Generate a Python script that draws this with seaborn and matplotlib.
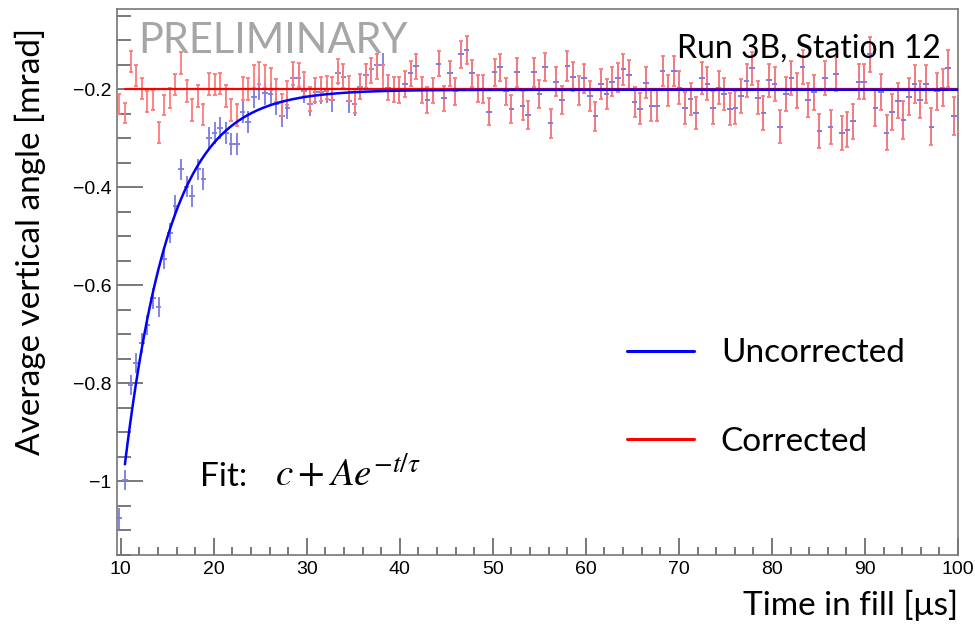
import numpy as np
import matplotlib
matplotlib.use("Agg")
import matplotlib.pyplot as plt
from matplotlib.ticker import MultipleLocator, FixedLocator
from matplotlib.lines import Line2D
import seaborn as sns

# -------------------------------
# data
# -------------------------------
bin_start = 9.85      # first bin centre [us]
bin_width = 0.602     # bin width [us]

# corrected average vertical angle per bin [mrad]
corrected = [
    -0.231, -0.249, -0.144, -0.173, -0.199, -0.226, -0.222, -0.289, -0.233, -0.218,
    -0.191, -0.147, -0.204, -0.243, -0.214, -0.252, -0.190, -0.191, -0.189, -0.214,
    -0.243, -0.253, -0.199, -0.200, -0.175, -0.167,
    -0.175, -0.180, -0.203, -0.233, -0.208, -0.168, -0.171, -0.190, -0.220, -0.202,
    -0.200, -0.197, -0.199, -0.163, -0.173, -0.199, -0.224, -0.195, -0.173, -0.162,
    -0.154, -0.177, -0.197, -0.201, -0.202,
    -0.190, -0.168, -0.154, -0.202, -0.222, -0.203, -0.148, -0.219, -0.168, -0.205,
    -0.129, -0.120, -0.168, -0.199,
    -0.200, -0.246, -0.166, -0.156, -0.205, -0.241, -0.166, -0.234, -0.253, -0.166,
    -0.210, -0.155, -0.270, -0.185, -0.223, -0.153, -0.175, -0.203, -0.178, -0.214,
    -0.256, -0.190, -0.210, -0.185, -0.177, -0.160, -0.172, -0.227, -0.240, -0.187,
    -0.234, -0.234, -0.163, -0.203, -0.163, -0.197,
    -0.239, -0.220, -0.249, -0.177, -0.189, -0.238, -0.197, -0.210, -0.241, -0.238,
    -0.214, -0.183, -0.158, -0.218, -0.249, -0.182, -0.190, -0.277, -0.210, -0.177,
    -0.203, -0.155, -0.222, -0.207, -0.286, -0.178, -0.278, -0.169, -0.290, -0.283,
    -0.266, -0.185, -0.185, -0.129, -0.239, -0.206, -0.289, -0.247, -0.224, -0.263,
    -0.216, -0.190, -0.222, -0.190, -0.277, -0.205, -0.197, -0.158, -0.255, -0.249,
]

# uncorrected values where they differ from the corrected ones (first 48 bins)
uncorrected_early = [
    -1.076, -0.998, -0.804, -0.759, -0.718, -0.682, -0.627, -0.645, -0.546, -0.494,
    -0.438, -0.364, -0.399, -0.418, -0.364, -0.384, -0.300, -0.290, -0.280, -0.290,
    -0.312, -0.312, -0.247, -0.267, -0.216, -0.200, -0.209, -0.211, -0.231, -0.255,
    -0.238, -0.178, -0.178, -0.205, -0.231, -0.207, -0.207, -0.205, -0.222, -0.168,
    -0.176, -0.224, -0.231, -0.195, -0.171, -0.160, -0.151, -0.151,
]

# error bar half height, one value per block of 10 bins [mrad]
block_err = [0.021, 0.022, 0.023, 0.024, 0.025, 0.026, 0.028, 0.029,
             0.030, 0.031, 0.033, 0.034, 0.035, 0.036, 0.038, 0.039]

# fit c + A exp(-t/tau)
fit_unc = dict(c=-0.2015, A=-6.45, tau=4.9)
fit_cor = dict(c=-0.2005, A=0.0, tau=4.9)
fit_range = (10.45, 100.0)

y_ticks = [-1.0, -0.8, -0.6, -0.4, -0.2]
y_ticklabels = ["\u22121", "\u22120.8", "\u22120.6", "\u22120.4", "\u22120.2"]
x_ticks = [10, 20, 30, 40, 50, 60, 70, 80, 90, 100]

# -------------------------------
# derived arrays
# -------------------------------
n_bins = len(corrected)
time = bin_start + bin_width * np.arange(n_bins)
uncorrected = uncorrected_early + corrected[len(uncorrected_early):]
err = np.repeat(block_err, 10)[:n_bins]

t_fit = np.linspace(fit_range[0], fit_range[1], 600)
def fit_func(t, p):
    return p["c"] + p["A"] * np.exp(-t / p["tau"])

# -------------------------------
# plot
# -------------------------------
sns.set_theme(style="white")
plt.rcParams['font.family'] = ['Liberation Sans', 'DejaVu Sans']
plt.rcParams['mathtext.fontset'] = 'stix'
plt.rcParams['axes.unicode_minus'] = True
plt.rcParams['text.color'] = 'black'
plt.rcParams['axes.labelcolor'] = 'black'

fig = plt.figure(figsize=(9.75, 6.29), dpi=100)
ax = fig.add_axes([117 / 975, 1 - 555 / 629, 841 / 975, 546 / 629])

# blue below, red bars on top (late bins coincide)
ax.errorbar(time, uncorrected, yerr=err, xerr=bin_width / 2, fmt='none',
            ecolor='#7c7ce0', elinewidth=1.3, zorder=2)
ax.errorbar(time, corrected, yerr=err, fmt='none', ecolor='#ff7a7a',
            elinewidth=1.3, capsize=1.6, capthick=1.3, zorder=3)
# blue centre dashes stay visible on top of the red bars
ax.errorbar(time[len(uncorrected_early):], uncorrected[len(uncorrected_early):],
            xerr=bin_width / 2, fmt='none', ecolor='#7c7ce0', elinewidth=1.3, zorder=3.5)

sns.lineplot(x=t_fit, y=fit_func(t_fit, fit_cor), color='#ff0000', linewidth=1.6,
             sort=False, ax=ax, zorder=4)
sns.lineplot(x=t_fit, y=fit_func(t_fit, fit_unc), color='#0000ff', linewidth=1.8,
             sort=False, ax=ax, zorder=5)

ax.set_xlim(9.6, 100.0)
ax.set_ylim(-1.151, -0.0367)

ax.xaxis.set_major_locator(FixedLocator(x_ticks))
ax.xaxis.set_minor_locator(MultipleLocator(2))
ax.set_yticks(y_ticks)
ax.set_yticklabels(y_ticklabels)
ax.yaxis.set_minor_locator(MultipleLocator(0.05))

tick_col = '#555555'
ax.tick_params(axis='both', which='both', direction='in', colors=tick_col,
               labelcolor='black', labelsize=14, bottom=True, left=True,
               top=False, right=False)
ax.tick_params(axis='y', which='major', length=18.5, width=1.1, pad=4)
ax.tick_params(axis='y', which='minor', length=10, width=1.1)
ax.tick_params(axis='x', which='major', length=12, width=1.1, pad=4)
ax.tick_params(axis='x', which='minor', length=6, width=1.1)
for sp in ax.spines.values():
    sp.set_color('#777777')
    sp.set_linewidth(1.2)

ax.set_xlabel("Time in fill [\u03bcs]", fontsize=24, family='Lato', ha='right')
ax.xaxis.set_label_coords(1.0, -0.063)
ax.set_ylabel("Average vertical angle [mrad]", fontsize=24, family='Lato')
ax.yaxis.set_label_coords(-0.085, 0.575)

ax.text(0.025, 0.919, "PRELIMINARY", transform=ax.transAxes, fontsize=30,
        family='Lato', color='#a6a6a6', ha='left', va='baseline')
ax.text(0.979, 0.912, "Run 3B, Station 12", transform=ax.transAxes, fontsize=23,
        family='Lato', color='black', ha='right', va='baseline')
ax.text(0.099, 0.126, "Fit:", transform=ax.transAxes,
        fontsize=24, family='Lato', color='black', ha='left', va='baseline')
ax.text(0.188, 0.126, r"$c + Ae^{-t/\tau}$", transform=ax.transAxes,
        fontsize=28, color='black', ha='left', va='baseline')

handles = [Line2D([], [], color='#0000ff', lw=2.2),
           Line2D([], [], color='#ff0000', lw=2.2)]
ax.legend(handles, ["Uncorrected", "Corrected"], loc='center left',
          bbox_to_anchor=(0.607, 0.2885), frameon=False,
          prop={'family': 'Lato', 'size': 24}, handlelength=2.0,
          handletextpad=0.8, labelspacing=1.75, borderpad=0, borderaxespad=0,
          labelcolor='black')

fig.savefig("out.png", dpi=100)
